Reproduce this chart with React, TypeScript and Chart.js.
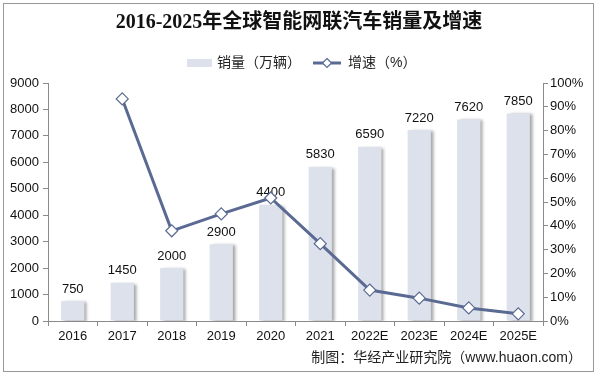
import React, { useEffect, useRef } from "react";
import { Chart, registerables } from "chart.js";
Chart.register(...registerables);

const categories = ["2016", "2017", "2018", "2019", "2020", "2021", "2022E", "2023E", "2024E", "2025E"];
const sales = [750, 1450, 2000, 2900, 4400, 5830, 6590, 7220, 7620, 7850];
const growth = [null, 93.3, 37.9, 45.0, 51.7, 32.5, 13.0, 9.6, 5.5, 3.0];
const titleText = "2016-2025年全球智能网联汽车销量及增速";
const barLabel = "销量（万辆）";
const lineLabel = "增速（%）";
const sourceText = "制图：华经产业研究院（www.huaon.com）";

const BAR_COLOR = "#dce1eb";
const LINE_COLOR = "#5a6a92";
const AXIS_COLOR = "#8a8a8a";
const CJK = "'Liberation Sans', 'Noto Sans CJK SC', sans-serif";

const overlay = {
  id: "overlay",
  beforeDatasetDraw(chart: any, args: any) {
    if (args.index === 0) {
      const ctx = chart.ctx;
      ctx.save();
      ctx.shadowColor = "rgba(0,0,0,0.35)";
      ctx.shadowOffsetX = 3;
      ctx.shadowOffsetY = 1;
      ctx.shadowBlur = 3;
    }
  },
  afterDatasetDraw(chart: any, args: any) {
    if (args.index === 0) {
      const ctx = chart.ctx;
      ctx.restore();
      const meta = chart.getDatasetMeta(0);
      ctx.save();
      ctx.fillStyle = "#111";
      ctx.font = "13px 'Liberation Sans', Arial, sans-serif";
      ctx.textAlign = "center";
      ctx.textBaseline = "middle";
      meta.data.forEach((el: any, i: number) => {
        ctx.fillText(String(sales[i]), el.x, el.y - 12);
      });
      ctx.restore();
    }
  },
  afterDraw(chart: any) {
    const ctx = chart.ctx;
    ctx.save();
    ctx.fillStyle = "#111";
    ctx.textAlign = "center";
    ctx.textBaseline = "middle";
    ctx.font = "bold 20px 'Liberation Serif', 'Noto Sans CJK SC', serif";
    ctx.fillText(titleText, 299, 23);
    ctx.fillStyle = BAR_COLOR;
    ctx.fillRect(187, 59, 25, 8);
    ctx.fillStyle = "#222";
    ctx.textAlign = "left";
    ctx.font = "14px " + CJK;
    ctx.fillText(barLabel, 217, 63);
    ctx.strokeStyle = LINE_COLOR;
    ctx.lineWidth = 3;
    ctx.beginPath();
    ctx.moveTo(313, 63);
    ctx.lineTo(341, 63);
    ctx.stroke();
    ctx.lineWidth = 1.2;
    ctx.fillStyle = "#fff";
    ctx.beginPath();
    ctx.moveTo(327, 58.5);
    ctx.lineTo(331.5, 63);
    ctx.lineTo(327, 67.5);
    ctx.lineTo(322.5, 63);
    ctx.closePath();
    ctx.fill();
    ctx.stroke();
    ctx.fillStyle = "#222";
    ctx.fillText(lineLabel, 348, 63);
    ctx.textAlign = "right";
    ctx.font = "14px " + CJK;
    ctx.fillText(sourceText, 582, 358);
    ctx.restore();
  },
};

export default function App() {
  const ref = useRef<HTMLCanvasElement>(null);
  useEffect(() => {
    if (!ref.current) return;
    const chart = new Chart(ref.current, {
      type: "bar",
      data: {
        labels: categories,
        datasets: [
          {
            type: "bar",
            label: barLabel,
            data: sales,
            backgroundColor: BAR_COLOR,
            yAxisID: "y",
            order: 1,
            barPercentage: 0.47,
            categoryPercentage: 1,
          },
          {
            type: "line",
            label: lineLabel,
            data: growth as any,
            borderColor: LINE_COLOR,
            borderWidth: 3,
            pointStyle: "rectRot",
            pointRadius: 6,
            pointBackgroundColor: "#fff",
            pointBorderColor: LINE_COLOR,
            pointBorderWidth: 1.2,
            yAxisID: "y1",
            order: 0,
            spanGaps: false,
          },
        ],
      },
      options: {
        responsive: false,
        animation: false,
        layout: { padding: { top: 83, left: 0, right: 0, bottom: 0 } },
        plugins: { legend: { display: false }, tooltip: { enabled: false }, title: { display: false } },
        scales: {
          x: {
            grid: { display: true, drawOnChartArea: false, drawTicks: true, tickLength: 5, color: AXIS_COLOR, offset: true },
            border: { color: AXIS_COLOR },
            ticks: { color: "#111", font: { size: 13, family: "'Liberation Sans', Arial, sans-serif" }, padding: 3, maxRotation: 0 },
            afterFit(scale: any) {
              scale.height = 56;
            },
          },
          y: {
            position: "left",
            min: 0,
            max: 9000,
            ticks: {
              stepSize: 1000,
              color: "#111",
              font: { size: 13, family: "'Liberation Sans', Arial, sans-serif" },
              padding: 4,
              callback: (v: any) => String(v),
            },
            grid: { drawOnChartArea: false, tickLength: 5, color: AXIS_COLOR },
            border: { color: AXIS_COLOR },
            afterFit(scale: any) {
              scale.width = 48;
            },
          },
          y1: {
            position: "right",
            min: 0,
            max: 100,
            ticks: {
              stepSize: 10,
              color: "#111",
              font: { size: 13, family: "'Liberation Sans', Arial, sans-serif" },
              padding: 2,
              callback: (v: any) => v + "%",
            },
            grid: { drawOnChartArea: false, tickLength: 5, color: AXIS_COLOR },
            border: { color: AXIS_COLOR },
            afterFit(scale: any) {
              scale.width = 54;
            },
          },
        },
      },
      plugins: [overlay],
    });
    return () => chart.destroy();
  }, []);
  return (
    <div style={{ position: "absolute", left: 0, top: 0, width: 597, height: 377, background: "#fff" }}>
      <canvas ref={ref} width={597} height={377} style={{ position: "absolute", left: 0, top: 0 }} />
      <div
        style={{
          position: "absolute",
          left: 3,
          top: 3,
          width: 591,
          height: 369,
          border: "1px solid #999",
          boxSizing: "border-box",
          pointerEvents: "none",
        }}
      />
    </div>
  );
}
